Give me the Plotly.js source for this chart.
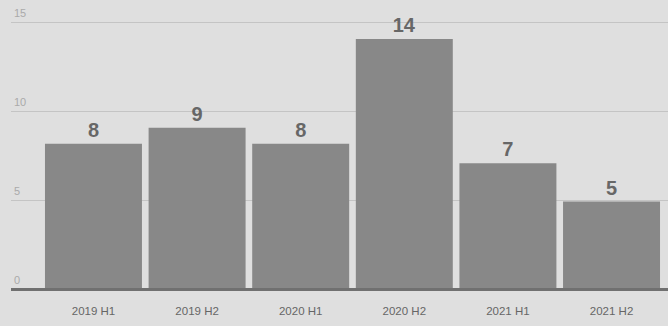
<!DOCTYPE html>
<html>
<head>
<meta charset="utf-8">
<script src="https://cdn.plot.ly/plotly-3.0.1.min.js"></script>
<style>
  html, body { margin: 0; padding: 0; background: #dedede; }
  #chart { width: 668px; height: 326px; }
</style>
</head>
<body>
<div id="chart"></div>
<script>
const categories = ["2019 H1", "2019 H2", "2020 H1", "2020 H2", "2021 H1", "2021 H2"];
const values = [8.2, 9.1, 8.2, 14.1, 7.1, 4.95];
const valueLabels = ["8", "9", "8", "14", "7", "5"];
const yTicks = [0, 5, 10, 15];
const yTickLabels = ["0", "5", "10", "15"];

const trace = {
  type: "bar",
  x: categories.map((_, i) => i),
  y: values,
  text: valueLabels,
  textposition: "outside",
  cliponaxis: false,
  textfont: { family: "Liberation Sans", size: 20, color: "#676767", weight: "bold" },
  marker: { color: "#888888", line: { width: 0 } },
  hoverinfo: "skip"
};

const layout = {
  width: 668,
  height: 326,
  margin: { l: 11, r: 0, t: 0, b: 34, pad: 0 },
  paper_bgcolor: "#dfdfdf",
  plot_bgcolor: "#dfdfdf",
  showlegend: false,
  bargap: 0.064,
  xaxis: {
    range: [-0.796, 5.545],
    tickmode: "array",
    tickvals: categories.map((_, i) => i),
    ticktext: categories,
    showgrid: false,
    zeroline: false,
    showline: false,
    ticks: "",
    tickfont: { family: "Liberation Sans", size: 11.5, color: "#666666" },
    ticklabelstandoff: 10
  },
  yaxis: {
    range: [-0.141, 16.29],
    tickmode: "array",
    tickvals: yTicks,
    ticktext: yTickLabels,
    showgrid: true,
    gridcolor: "#c4c4c4",
    gridwidth: 1,
    zeroline: false,
    showline: false,
    ticks: "",
    ticklabelposition: "inside top",
    ticklabelshift: -2,
    tickfont: { family: "Liberation Sans", size: 11, color: "#aaaaaa" }
  },
  shapes: [{
    type: "line", xref: "paper", x0: 0, x1: 1, yref: "y", y0: 0, y1: 0,
    line: { color: "#707070", width: 3 }, layer: "above"
  }]
};

Plotly.newPlot("chart", [trace], layout, { displayModeBar: false, staticPlot: true });
</script>
</body>
</html>
